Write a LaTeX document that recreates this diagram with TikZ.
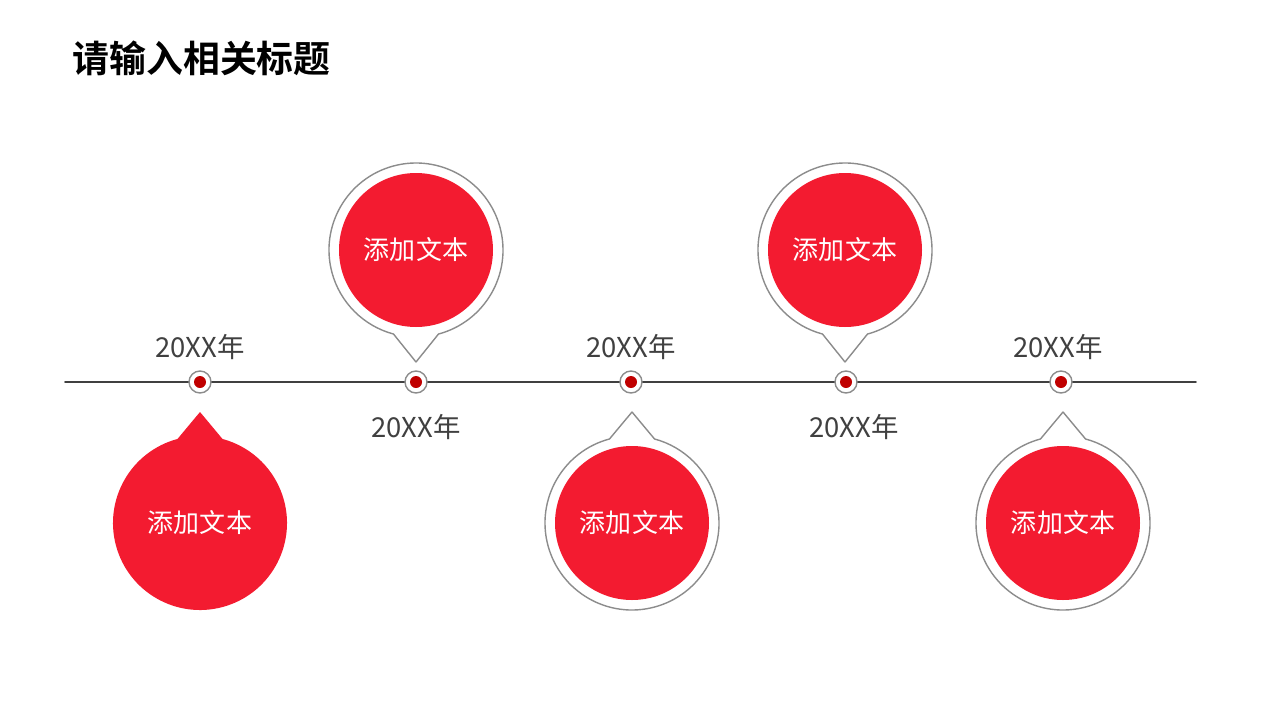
\documentclass[tikz,border=0pt]{standalone}
\usepackage{fontspec}
\setmainfont{Noto Sans CJK SC}[BoldFont={Noto Sans CJK SC Bold}]
\definecolor{pinred}{HTML}{F31B30}
\definecolor{dotred}{HTML}{C00000}
\definecolor{ringgray}{HTML}{8C8C8C}
\definecolor{yeargray}{HTML}{404040}
\tikzset{
  pinring/.style={draw=ringgray, line width=0.4pt, fill=white},
  pinfill/.style={fill=pinred},
  dotring/.style={circle, draw=ringgray, line width=0.4pt, fill=white, minimum size=0.22cm, inner sep=0pt},
  tline/.style={draw=yeargray, line width=0.45pt},
  yeartxt/.style={text=yeargray, font=\fontsize{7.8}{9}\selectfont},
  pintxt/.style={text=white, font=\fontsize{7.4}{9}\selectfont},
  titletxt/.style={font=\fontsize{10.5}{12}\selectfont\bfseries, anchor=west},
}
\begin{document}
\begin{tikzpicture}[x=0.1mm, y=0.1mm, line join=round, line cap=round]
  \useasboundingbox (0,0) rectangle (1280,720);
  \def\rr{87} \def\ri{77} \def\ly{338}
  \node[titletxt] (title) at (60,662) {请输入相关标题};
  % time line
  \coordinate (lstart) at (65,\ly);
  \coordinate (lend) at (1196,\ly);
  \draw[tline] (lstart) -- (lend);
  % first pin, filled
  \coordinate (c1) at (200,197);
  \fill[pinfill] (200,308) -- ([shift={(105:\rr)}]c1) arc[start angle=105, end angle=435, radius=\rr] -- cycle;
  \node[pintxt] (p1) at (c1) {添加文本};
  % other pins
  \foreach \x/\cy/\ty/\a [count=\i from 2] in {416/470/358/270, 632/197/308/90, 845/470/358/270, 1063/197/308/90}
  {
    \coordinate (c\i) at (\x,\cy);
    \draw[pinring] (\x,\ty) -- ([shift={(\a+15:\rr)}]c\i) arc[start angle=\a+15, end angle=\a+345, radius=\rr] -- cycle;
    \fill[pinfill] (c\i) circle[radius=\ri];
    \node[pintxt] (p\i) at (c\i) {添加文本};
  }
  % dots and years
  \foreach \x/\yx/\yy [count=\i] in {200/200/373, 416/416/293, 631/631/373, 846/854/293, 1061/1058/373}
  {
    \node[dotring] (d\i) at (\x,\ly) {};
    \fill[dotred] (d\i) circle[radius=6];
    \node[yeartxt] (y\i) at (\yx,\yy) {20XX年};
  }
\end{tikzpicture}
\end{document}
